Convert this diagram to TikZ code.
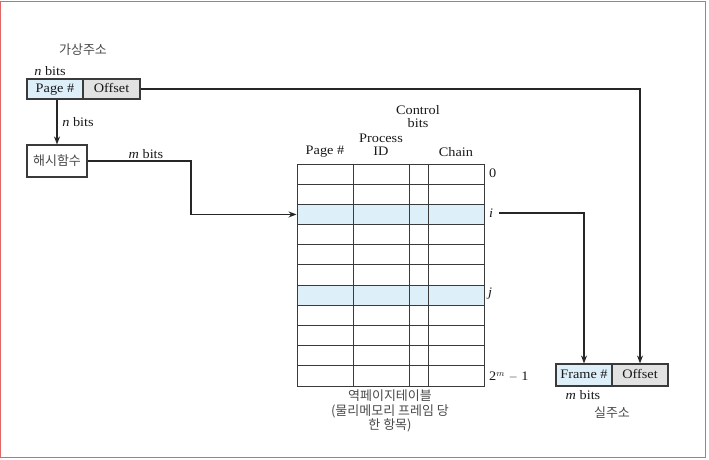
\documentclass[tikz,border=0pt]{standalone}
\usepackage{fontspec}
\setmainfont{Liberation Serif}[FakeStretch=1.1]
\newfontfamily\kr{Noto Sans CJK KR}
\usetikzlibrary{arrows.meta}
\definecolor{lblue}{HTML}{DDEFF9}
\definecolor{lgray}{HTML}{E2E2E2}
\definecolor{frame}{HTML}{E06565}
\definecolor{edge}{HTML}{3A3A3A}
\definecolor{krtext}{HTML}{4A4A4A}
\tikzset{
  txt/.style={font=\fontsize{13}{13}\selectfont, text=black!90, inner sep=0pt, align=center},
  krt/.style={font=\kr\fontsize{13}{14.5}\selectfont, text=krtext, inner sep=0pt, align=center},
  field/.style={draw=edge, line width=1.1pt, minimum height=20pt, inner sep=0pt,
    text height=9pt, text depth=2.5pt,
    font=\fontsize{13}{13}\selectfont, text=black!90},
  rowbox/.style={draw=edge, line width=0.9pt, minimum width=187pt, minimum height=20.18pt, inner sep=0pt},
  conn/.style={line width=1.5pt, black!85},
  arr/.style={conn, -{Stealth[length=8pt,width=6pt]}}
}
\begin{document}
\begin{tikzpicture}[x=1pt,y=-1pt]
\useasboundingbox (0,0) rectangle (709,460);
\draw[frame, line width=1.2pt] (0.6,1.2) rectangle (705.5,457.8);

% virtual address
\node[krt] (vaddr) at (83,50) {가상주소};
\node[txt] (nbits1) at (50,71) {\textit{n} bits};
\node[field, fill=lblue, minimum width=56pt] (page) at (55,89) {Page \#};
\node[field, fill=lgray, minimum width=57pt] (offset) at (111.5,89) {Offset};

% hash function
\node[draw=edge, line width=1.1pt, minimum width=60pt, minimum height=32pt, inner sep=0pt,
  font=\kr\fontsize{13}{14}\selectfont, text=krtext] (hash) at (57,161) {해시함수};
\node[txt] (nbits2) at (78,122) {\textit{n} bits};
\node[txt] (mbits1) at (146,154) {\textit{m} bits};

% table
\foreach \r in {0,...,10} {
  \pgfmathsetmacro{\yc}{164+20.18*(\r+0.5)}
  \node[rowbox] (row\r) at (390.5,\yc) {};
}
\fill[lblue] (row2.north west) rectangle (row2.south east);
\fill[lblue] (row6.north west) rectangle (row6.south east);
\node[rowbox] at (row2) {};
\node[rowbox] at (row6) {};
\foreach \cx in {353,409,428} {
  \draw[edge, line width=0.9pt] (row0.north -| \cx,0) -- (row10.south -| \cx,0);
}
\node[txt] (hpage) at (325,152) {Page \#};
\node[txt] (hproc) at (381,145) {Process\\ID};
\node[txt] (hctrl) at (418,117) {Control\\bits};
\node[txt] (hchain) at (456,152) {Chain};

\node[txt, anchor=west] (l0) at (489,173) {0};
\node[txt, anchor=west] (li) at (489,213) {\textit{i}};
\node[txt, anchor=west] (lj) at (488,294) {\textit{j}};
\node[txt, anchor=west] (lm) at (489,377) {2$^{m}$ $-$ 1};

\node[krt] (tcap) at (390,411) {역페이지테이블\\(물리메모리 프레임 당\\한 항목)};

% real address
\node[field, fill=lblue, minimum width=56pt, minimum height=22pt] (fnum) at (584,375) {Frame \#};
\node[field, fill=lgray, minimum width=56pt, minimum height=22pt] (roff) at (640,375) {Offset};
\node[txt] (mbits2) at (583,395) {\textit{m} bits};
\node[krt] (raddr) at (612,413) {실주소};

% connectors
\coordinate (bendx) at (191,0);
\draw[arr] (page.south -| hash.north) -- (hash.north);
\draw[arr] (hash.east) -- (hash.east -| bendx) -- (bendx |- row2.west) -- (row2.west);
\draw[arr] (offset.east) -| (roff.north);
\draw[arr] ([xshift=6pt]li.east) -| (fnum.north);
\end{tikzpicture}
\end{document}
